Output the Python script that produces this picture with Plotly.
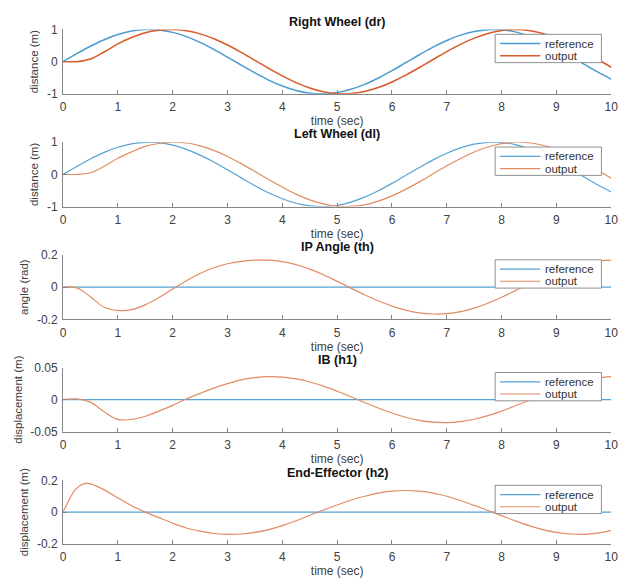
import plotly.graph_objects as go

# ---------------- data ----------------
t = [0, 0.25, 0.5, 0.75, 1.0, 1.25, 1.5, 1.75, 2.0, 2.25, 2.5, 2.75, 3.0, 3.25, 3.5, 3.75,
     4.0, 4.25, 4.5, 4.75, 5.0, 5.25, 5.5, 5.75, 6.0, 6.25, 6.5, 6.75, 7.0, 7.25, 7.5, 7.75,
     8.0, 8.25, 8.5, 8.75, 9.0, 9.25, 9.5, 9.75, 10.0]

dr_ref = [0.0, 0.247, 0.479, 0.682, 0.841, 0.949, 0.997, 0.984, 0.909, 0.778, 0.598, 0.382,
          0.141, -0.108, -0.351, -0.572, -0.757, -0.895, -0.978, -0.999, -0.959, -0.859,
          -0.706, -0.508, -0.279, -0.033, 0.215, 0.451, 0.657, 0.823, 0.938, 0.994, 0.989,
          0.925, 0.798, 0.624, 0.412, 0.174, -0.075, -0.319, -0.544]
dr_out = [0.0, 0.0, 0.08, 0.3, 0.55, 0.75, 0.9, 0.975, 0.998, 0.961, 0.863, 0.711, 0.516,
          0.287, 0.042, -0.207, -0.443, -0.650, -0.818, -0.935, -0.994, -0.990, -0.926,
          -0.804, -0.631, -0.418, -0.182, 0.067, 0.312, 0.535, 0.729, 0.877, 0.968, 1.0,
          0.970, 0.878, 0.734, 0.544, 0.319, 0.075, -0.174]

dl_ref = list(dr_ref)
dl_out = [0.0, 0.0, 0.05, 0.25, 0.5, 0.7, 0.87, 0.96, 0.998, 0.974, 0.887, 0.746, 0.558,
          0.335, 0.092, -0.158, -0.397, -0.612, -0.790, -0.916, -0.987, -0.996, -0.944,
          -0.832, -0.668, -0.465, -0.232, 0.017, 0.266, 0.494, 0.696, 0.850, 0.954, 0.999,
          0.983, 0.905, 0.773, 0.591, 0.372, 0.131, -0.118]

th_out = [0.0, -0.005, -0.06, -0.125, -0.145, -0.14, -0.11, -0.065, -0.012, 0.04, 0.085,
          0.12, 0.145, 0.16, 0.167, 0.167, 0.158, 0.14, 0.112, 0.077, 0.036, -0.006, -0.047,
          -0.085, -0.118, -0.143, -0.16, -0.167, -0.165, -0.152, -0.13, -0.1, -0.063, -0.022,
          0.02, 0.06, 0.095, 0.125, 0.148, 0.162, 0.167]

h1_out = [0.0, 0.001, -0.004, -0.019, -0.031, -0.031, -0.026, -0.018, -0.009, 0.001, 0.0097,
          0.018, 0.025, 0.031, 0.0344, 0.036, 0.0353, 0.0324, 0.0276, 0.021, 0.0131, 0.0045,
          -0.0045, -0.0132, -0.021, -0.0276, -0.0324, -0.0353, -0.036, -0.0344, -0.0307,
          -0.0251, -0.018, -0.0097, -0.001, 0.008, 0.0164, 0.0236, 0.0296, 0.0338, 0.0358]

t_h2 = [0, 0.1, 0.2, 0.3, 0.4, 0.5, 0.6, 0.75, 1.0, 1.25, 1.5, 1.75, 2.0, 2.25, 2.5, 2.75,
        3.0, 3.25, 3.5, 3.75, 4.0, 4.25, 4.5, 4.75, 5.0, 5.25, 5.5, 5.75, 6.0, 6.25, 6.5,
        6.75, 7.0, 7.25, 7.5, 7.75, 8.0, 8.25, 8.5, 8.75, 9.0, 9.25, 9.5, 9.75, 10.0]
h2_out = [0.0, 0.07, 0.13, 0.165, 0.18, 0.178, 0.165, 0.14, 0.09, 0.04, 0.0, -0.035, -0.07,
          -0.1, -0.12, -0.135, -0.14, -0.138, -0.128, -0.11, -0.085, -0.055, -0.02, 0.013,
          0.045, 0.075, 0.1, 0.12, 0.132, 0.136, 0.132, 0.12, 0.1, 0.073, 0.042, 0.01,
          -0.022, -0.055, -0.085, -0.11, -0.128, -0.138, -0.14, -0.132, -0.115]

t_flat = [0, 10]
zero_ref = [0, 0]

titles = ["Right Wheel (dr)", "Left Wheel (dl)", "IP Angle (th)", "IB (h1)", "End-Effector (h2)"]
ylabels = ["distance (m)", "distance (m)", "angle (rad)", "displacement (m)", "displacement (m)"]
yranges = [[-1, 1], [-1, 1], [-0.2, 0.2], [-0.05, 0.05], [-0.2, 0.2]]
ytickvals = [[-1, 0, 1], [-1, 0, 1], [-0.2, 0, 0.2], [-0.05, 0, 0.05], [-0.2, 0, 0.2]]
yticktext = [["-1", "0", "1"], ["-1", "0", "1"], ["-0.2", "0", "0.2"],
             ["-0.05", "0", "0.05"], ["-0.2", "0", "0.2"]]
xtickvals = [0, 1, 2, 3, 4, 5, 6, 7, 8, 9, 10]
xticktext = ["0", "1", "2", "3", "4", "5", "6", "7", "8", "9", "10"]
legend_names = ["reference", "output"]

series = [
    (t, dr_ref, t, dr_out),
    (t, dl_ref, t, dl_out),
    (t_flat, zero_ref, t, th_out),
    (t_flat, zero_ref, t, h1_out),
    (t_flat, zero_ref, t_h2, h2_out),
]

# ---------------- layout geometry ----------------
W, H = 635, 584
x0_px, x1_px = 61, 618
plot_px = [(23, 89), (138.5, 204.5), (254, 320), (369.5, 435), (485, 550)]

FONT = "Liberation Sans, Arial, Helvetica, sans-serif"
TXT = "#404040"
AX = "#858585"
ref_colors = ["#4a9bd1", "#55a2d4", "#55a2d4", "#55a2d4", "#55a2d4"]
out_colors = ["#d95a26", "#e28c63", "#e28c63", "#e28c63", "#e28c63"]
widths = [1.5, 1.2, 1.2, 1.2, 1.2]

fig = go.Figure()
annotations = []
shapes = []
layout = dict(
    width=W, height=H,
    margin=dict(l=0, r=0, t=0, b=0),
    paper_bgcolor="white", plot_bgcolor="white",
    font=dict(family=FONT, size=11, color=TXT),
    showlegend=False,
)


def px_x(v):
    return v / W


def px_y(v):
    return 1 - v / H


for i in range(5):
    k = i + 1
    xa = "x" if k == 1 else f"x{k}"
    ya = "y" if k == 1 else f"y{k}"
    tr, yr, to, yo = series[i]
    fig.add_trace(go.Scatter(x=tr, y=yr, mode="lines", name=legend_names[0],
                             line=dict(color=ref_colors[i], width=widths[i], shape="spline"),
                             xaxis=xa, yaxis=ya))
    fig.add_trace(go.Scatter(x=to, y=yo, mode="lines", name=legend_names[1],
                             line=dict(color=out_colors[i], width=widths[i], shape="spline"),
                             xaxis=xa, yaxis=ya))
    top, bot = plot_px[i]
    axis_common = dict(showline=True, linecolor=AX, linewidth=1, ticks="inside",
                       ticklen=4, tickcolor=AX, showgrid=False, zeroline=False,
                       ticklabelstandoff=2)
    layout["xaxis" if k == 1 else f"xaxis{k}"] = dict(
        domain=[px_x(x0_px), px_x(x1_px)], range=[0, 10], anchor=ya,
        tickvals=xtickvals, ticktext=xticktext,
        tickfont=dict(family=FONT, size=12, color=TXT),
        title=dict(text="time (sec)", font=dict(family=FONT, size=12, color=TXT), standoff=1),
        **axis_common)
    layout["yaxis" if k == 1 else f"yaxis{k}"] = dict(
        domain=[px_y(bot), px_y(top)], range=yranges[i], anchor=xa,
        tickvals=ytickvals[i], ticktext=yticktext[i],
        tickfont=dict(family=FONT, size=12, color=TXT),
        title=dict(text=ylabels[i], font=dict(family=FONT, size=11.5, color=TXT), standoff=5),
        **axis_common)
    # subplot title
    annotations.append(dict(
        text=f"<b>{titles[i]}</b>", x=px_x((x0_px + x1_px) / 2), y=px_y(top - 8),
        xref="paper", yref="paper", xanchor="center", yanchor="middle", showarrow=False,
        font=dict(family=FONT, size=12.5, color="#111111")))
    # legend box (MATLAB style)
    lt = top + 5
    shapes.append(dict(type="rect", xref="paper", yref="paper",
                       x0=px_x(500), x1=px_x(608), y0=px_y(lt), y1=px_y(lt + 29),
                       line=dict(color="#8f8f8f", width=1), fillcolor="white", layer="above"))
    for j, (nm, col) in enumerate(zip(legend_names, [ref_colors[i], out_colors[i]])):
        ry = lt + 9.5 + j * 12.5
        shapes.append(dict(type="line", xref="paper", yref="paper",
                           x0=px_x(505), x1=px_x(546), y0=px_y(ry), y1=px_y(ry),
                           line=dict(color=col, width=widths[i]), layer="above"))
        annotations.append(dict(
            text=nm, x=px_x(549), y=px_y(ry), xref="paper", yref="paper",
            xanchor="left", yanchor="middle", showarrow=False,
            font=dict(family=FONT, size=11.5, color="#333333")))

layout["annotations"] = annotations
layout["shapes"] = shapes
fig.update_layout(**layout)
fig.write_html("out.html")
